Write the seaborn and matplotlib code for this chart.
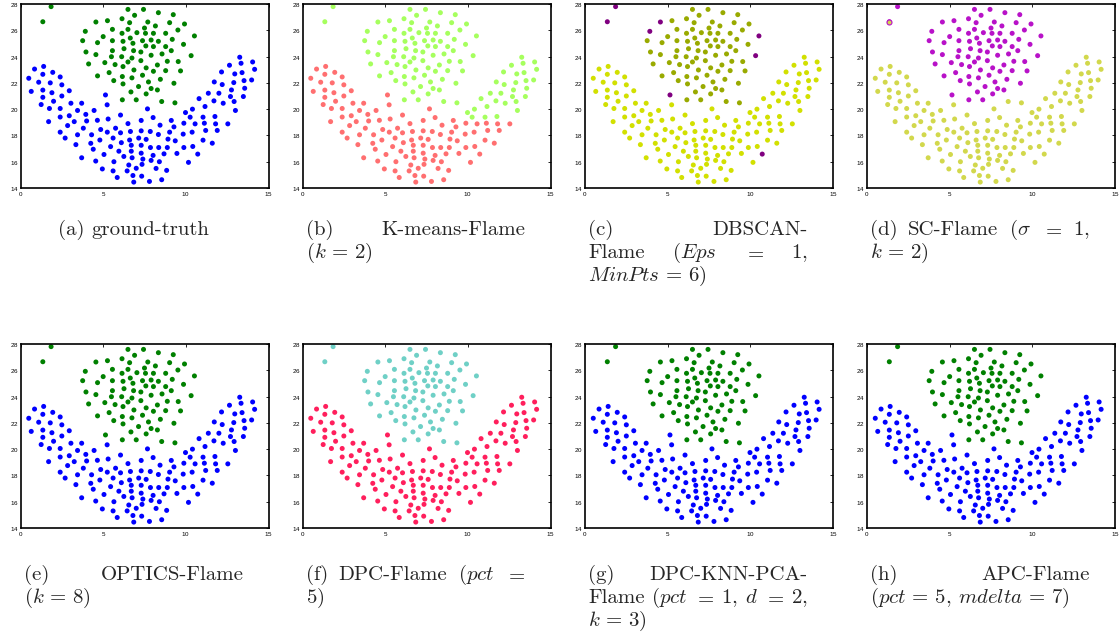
import numpy as np
import pandas as pd
import matplotlib
matplotlib.use("Agg")
import matplotlib.pyplot as plt
import seaborn as sns

# ---------------- data (Flame dataset) ----------------
top_x = [1.85, 1.35, 6.5, 7.44, 6.9, 8.34, 9.24, 4.56, 5.26, 6.14, 6.6, 7.7, 8.16, 9.02, 9.92,
         3.92, 5.56, 6.14, 6.5, 7.04, 7.5, 7.56, 8.04, 8.78, 9.52, 10.52, 3.76, 4.66, 5.0, 5.56,
         6.2, 6.64, 6.8, 7.38, 7.9, 8.34, 9.18, 9.86, 3.96, 4.56, 5.56, 6.26, 6.84, 7.28, 7.58,
         8.04, 8.56, 9.12, 8.78, 4.12, 5.1, 5.5, 5.72, 6.12, 6.2, 6.5, 6.74, 7.28, 7.6, 7.9,
         8.28, 8.88, 9.54, 10.32, 4.66, 5.36, 5.64, 6.16, 6.2, 6.74, 6.86, 7.38, 7.74, 8.04, 8.46,
         8.78, 9.68, 9.28, 6.68, 7.14, 7.6, 7.9, 8.28, 6.16, 7.0, 8.54, 9.34]
top_y = [27.8, 26.65, 27.59, 27.59, 27.14, 27.34, 27.19, 26.63, 26.73, 26.88, 26.58, 26.63, 26.33, 26.58, 26.48,
         25.92, 26.07, 25.77, 26.07, 25.82, 26.17, 25.77, 25.77, 25.77, 26.02, 25.57, 25.21, 25.06, 25.52, 25.21,
         25.16, 25.41, 25.01, 25.21, 25.26, 25.16, 25.31, 24.93, 24.35, 24.15, 24.45, 24.6, 24.45, 24.35, 24.81,
         24.76, 24.2, 24.45, 24.76, 23.44, 23.54, 23.99, 23.39, 23.99, 23.24, 23.59, 23.89, 23.69, 23.14, 24.1,
         23.36, 23.64, 23.62, 24.07, 22.53, 22.78, 22.17, 22.48, 21.92, 22.38, 22.98, 22.58, 22.07, 22.88, 22.27,
         22.93, 22.91, 21.97, 21.31, 21.72, 21.16, 21.57, 21.46, 20.71, 20.71, 20.58, 20.48]

bot_x = [1.4, 0.85, 0.5, 0.65, 1.1, 1.35, 1.95, 2.4, 1.8, 2.5,
         2.95, 1.9, 1.35, 1.35, 1.25, 1.75, 2.0, 2.5, 1.7, 2.4,
         3.05, 3.7, 3.45, 2.95, 2.4, 2.4, 2.85, 3.25, 3.95, 2.7,
         3.45, 3.8, 4.0, 4.45, 4.65, 4.85, 4.3, 3.35, 3.7, 4.4,
         4.25, 4.8, 5.25, 5.75, 5.3, 6.05, 6.5, 6.05, 5.6, 5.45,
         5.05, 4.55, 4.95, 5.85, 5.6, 5.65, 5.95, 6.25, 6.1, 6.6,
         6.65, 7.3, 7.85, 7.15, 7.6, 6.7, 7.3, 6.7, 7.3, 6.75,
         7.4, 6.55, 7.35, 6.8, 6.45, 6.85, 7.0, 7.33, 7.8,
         5.14, 5.24,
         8.54, 8.2, 8.84, 7.9, 8.4, 9.46, 10.16, 10.72, 8.02, 8.68, 7.86, 8.36, 8.88, 8.34,
         9.02, 9.36, 9.84, 10.38, 10.42, 9.88, 8.92, 7.68, 8.02, 8.44, 9.12, 9.28, 7.3,
         9.88, 9.98, 10.26, 10.4, 10.56, 10.8, 11.04, 11.16, 11.2, 11.12, 11.04, 11.6, 11.76,
         11.8, 11.7, 11.36, 11.9, 12.0, 12.2, 12.26, 12.16, 11.72, 12.54, 12.7, 12.76, 12.9,
         12.92, 13.0, 12.96, 12.64, 13.26, 13.34, 13.4, 13.52, 13.56, 13.48, 14.04, 14.16, 13.98]
bot_y = [23.25, 23.05, 22.35, 21.35, 22.05, 22.65, 22.8, 22.45, 22.0, 21.85,
         21.4, 21.25, 21.45, 20.9, 20.35, 20.05, 20.6, 21.0, 19.05, 20.05,
         20.45, 20.45, 19.9, 19.5, 19.4, 18.25, 18.75, 19.05, 19.6, 17.8,
         18.05, 18.55, 19.1, 19.9, 19.15, 18.45, 18.05, 17.3, 16.3, 16.95,
         17.4, 17.65, 18.25, 18.55, 19.25, 19.55, 18.9, 18.2, 17.8, 17.15,
         16.55, 16.05, 15.45, 14.8, 15.3, 16.0, 16.8, 16.4, 17.45, 17.65,
         18.3, 18.35, 18.3, 17.8, 17.7, 17.25, 17.25, 16.8, 16.65, 16.3,
         16.2, 15.75, 15.8, 14.95, 15.3, 14.45, 15.5, 14.9, 14.5,
         21.08, 20.33,
         14.63, 15.49, 15.34, 16.1, 16.0, 16.63, 15.95, 16.58, 16.48, 16.6, 17.08, 17.08, 17.08, 18.07,
         18.25, 17.59, 18.1, 18.25, 17.16, 17.08, 17.72, 20.02, 19.36, 18.78, 19.14, 18.65, 19.14,
         18.93, 19.74, 19.39, 20.0, 18.88, 20.8, 19.39, 20.2, 18.38, 18.93, 17.64, 17.41, 19.44,
         18.88, 20.63, 21.21, 18.38, 21.21, 21.87, 20.45, 22.83, 22.07, 18.88, 20.96, 21.46, 22.02,
         20.58, 19.9, 22.68, 23.34, 23.95, 23.49, 22.78, 22.17, 21.59, 20.96, 23.59, 23.03, 22.22]

# points whose cluster differs from the ground truth in a given result
kmeans_to_top = [(9.98, 19.74), (10.26, 19.39), (10.4, 20.0), (10.8, 20.8), (11.04, 19.39), (11.16, 20.2),
                 (11.76, 19.44), (11.7, 20.63), (11.36, 21.21), (12.0, 21.21), (12.2, 21.87), (12.26, 20.45),
                 (12.16, 22.83), (11.72, 22.07), (12.7, 20.96), (12.76, 21.46), (12.9, 22.02), (12.92, 20.58),
                 (13.0, 19.9), (12.96, 22.68), (12.64, 23.34), (13.26, 23.95), (13.34, 23.49), (13.4, 22.78),
                 (13.52, 22.17), (13.56, 21.59), (13.48, 20.96), (14.04, 23.59), (14.16, 23.03), (13.98, 22.22)]
dbscan_noise = [(1.85, 27.8), (1.35, 26.65), (4.56, 26.63), (3.92, 25.92), (10.52, 25.57),
                (10.32, 24.07), (5.14, 21.08), (10.72, 16.58)]
sc_to_top = [(5.14, 21.08)]
sc_to_bot = [(8.54, 20.58), (9.34, 20.48)]
sc_ring = [(1.35, 26.65)]
optics_to_top = [(5.14, 21.08)]

panels = ["a", "b", "c", "d", "e", "f", "g", "h"]
palettes = {
    "a": ["#008000", "#0000ff"],
    "b": ["#a6ff5e", "#ff6f70"],
    "c": ["#99aa00", "#d2e000", "#800080"],
    "d": ["#b812c8", "#d2d84c"],
    "e": ["#008000", "#0000ff"],
    "f": ["#6fd0c6", "#ff1f5c"],
    "g": ["#008000", "#0000ff"],
    "h": ["#008000", "#0000ff"],
}
moves = {
    "b": [(kmeans_to_top, 0)],
    "c": [(dbscan_noise, 2)],
    "d": [(sc_to_top, 0), (sc_to_bot, 1)],
    "e": [(optics_to_top, 0)],
}

captions = {
    "a": [(["(a)", "ground-truth"], False, True)],
    "b": [(["(b)", "K-means-Flame"], True, False), ([r"$(k\,=\,2)$"], False, False)],
    "c": [(["(c)", "DBSCAN-"], True, False),
          (["Flame", r"$(Eps$", r"$=$", r"$1$,"], True, False),
          ([r"$MinPts\,=\,6$)"], False, False)],
    "d": [(["(d)", "SC-Flame", r"$(\sigma$", r"$=$", r"$1$,"], True, False), ([r"$k\,=\,2$)"], False, False)],
    "e": [(["(e)", "OPTICS-Flame"], True, False), ([r"$(k\,=\,8)$"], False, False)],
    "f": [(["(f)", "DPC-Flame", r"$(pct$", r"$=$"], True, False), ([r"$5$)"], False, False)],
    "g": [(["(g)", "DPC-KNN-PCA-"], True, False),
          (["Flame", r"$(pct$", r"$=$", r"$1$,", r"$d$", r"$=$", r"$2$,"], True, False),
          ([r"$k\,=\,3$)"], False, False)],
    "h": [(["(h)", "APC-Flame"], True, False), ([r"$(pct\,=\,5$,", r"$mdelta\,=\,7)$"], False, False)],
}

# ---------------- figure ----------------
W, H = 1119, 641
sns.set_style("white")
plt.rcParams["mathtext.fontset"] = "cm"
plt.rcParams["axes.formatter.use_mathtext"] = True
fig = plt.figure(figsize=(W / 100, H / 100), dpi=100)

base = pd.DataFrame({"x": top_x + bot_x, "y": top_y + bot_y,
                     "gt": [0] * len(top_x) + [1] * len(bot_x)})

col_left = [20.5, 302.5, 585.0, 867.0]
row_top = [4.0, 344.0]
ax_w, ax_h = 248.0, 184.0


def match(df, pts):
    m = np.zeros(len(df), bool)
    for px, py in pts:
        m |= np.isclose(df["x"], px) & np.isclose(df["y"], py)
    return m


for i, p in enumerate(panels):
    r, c = divmod(i, 4)
    L, T = col_left[c], row_top[r]
    ax = fig.add_axes([L / W, 1 - (T + ax_h) / H, ax_w / W, ax_h / H])
    df = base.copy()
    df["lab"] = df["gt"]
    for pts, lab in moves.get(p, []):
        df.loc[match(df, pts), "lab"] = lab
    pal = palettes[p]
    sns.scatterplot(data=df, x="x", y="y", hue="lab",
                    palette={k: pal[k] for k in sorted(df["lab"].unique())},
                    s=13, linewidth=0, legend=False, ax=ax)
    if p == "d":
        ring = df[match(df, sc_ring)]
        ax.scatter(ring["x"], ring["y"], s=13, facecolor=pal[1], edgecolor=pal[0], linewidth=0.8, zorder=3)
    ax.set_xlim(0, 15)
    ax.set_ylim(14, 28)
    ax.set_xticks([0, 5, 10, 15])
    ax.set_yticks(list(range(14, 29, 2)))
    ax.set_xlabel("")
    ax.set_ylabel("")
    ax.tick_params(direction="in", length=2.5, width=0.6, labelsize=4.5, top=True, right=True,
                   pad=1.5, colors="black")
    for lbl in ax.get_xticklabels() + ax.get_yticklabels():
        lbl.set_family("Liberation Sans")
    for s in ax.spines.values():
        s.set_linewidth(1.2)
        s.set_color("black")

# ---------------- captions ----------------
FS = 15
renderer = fig.canvas.get_renderer()


def measure(s):
    t = fig.text(0, 0, s, fontsize=FS, family="cmr10")
    w = t.get_window_extent(renderer).width
    t.remove()
    return w


SPACE = measure("a a") - 2 * measure("a")


def line(x0, width, ybase, words, justify=True, center=False):
    texts = [fig.text(0, 0, w, fontsize=FS, family="cmr10", va="baseline", ha="left") for w in words]
    widths = [t.get_window_extent(renderer).width for t in texts]
    if justify and len(words) > 1:
        gap = (width - sum(widths)) / (len(words) - 1)
    else:
        gap = SPACE
    total = sum(widths) + gap * (len(words) - 1)
    x = x0 + (width - total) / 2 if center else x0
    for t, w in zip(texts, widths):
        t.set_position((x / W, 1 - ybase / H))
        x += w + gap


cap_w = 220.0
cap_left = [L + 3 for L in col_left]
r1 = [235, 258, 281]
r2 = [580, 603, 626]

for i, p in enumerate(panels):
    r, c = divmod(i, 4)
    ys = r1 if r == 0 else r2
    for k, (words, just, cen) in enumerate(captions[p]):
        line(cap_left[c], cap_w, ys[k], words, justify=just, center=cen)

fig.savefig("out.png", dpi=100)
